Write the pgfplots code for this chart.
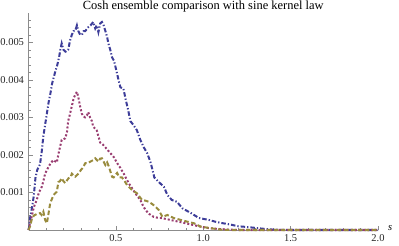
\documentclass[border=0pt]{standalone}
\usepackage{fontspec}
\setmainfont{Liberation Serif}
\usepackage{pgfplots}
\pgfplotsset{compat=1.18}
\definecolor{mmblue}{rgb}{0.24,0.24,0.6}
\definecolor{mmmag}{rgb}{0.6,0.24,0.4428}
\definecolor{mmolive}{rgb}{0.6,0.547,0.24}
\begin{document}
\begin{tikzpicture}
\path[use as bounding box] (-28.5bp,-16bp) rectangle (370.5bp,230bp);
\begin{axis}[
  at={(0,0)}, anchor=south west,
  scale only axis, width=349.5bp, height=217bp,
  xmin=0, xmax=2.0, ymin=0, ymax=0.00578,
  axis lines*=left,
  axis line style={color=black!45, line width=0.5bp},
  every tick/.style={color=black!45, line width=0.5bp},
  tick align=inside,
  major tick length=4bp, minor tick length=2.2bp,
  xtick={0.5,1,1.5,2}, xticklabels={0.5,1.0,1.5,2.0},
  minor xtick={0.1,0.2,0.3,0.4,0.6,0.7,0.8,0.9,1.1,1.2,1.3,1.4,1.6,1.7,1.8,1.9},
  ytick={0.001,0.002,0.003,0.004,0.005},
  yticklabels={0.001,0.002,0.003,0.004,0.005},
  minor ytick={0.0002,0.0004,0.0006,0.0008,0.0012,0.0014,0.0016,0.0018,0.0022,0.0024,0.0026,0.0028,0.0032,0.0034,0.0036,0.0038,0.0042,0.0044,0.0046,0.0048,0.0052,0.0054,0.0056},
  scaled y ticks=false,
  tick label style={font=\fontsize{10.5}{12}\selectfont, text=black!85},
  xticklabel style={yshift=-1bp},
  yticklabel style={xshift=-1bp},
  every axis title shift=0pt,
  title={Cosh ensemble comparison with sine kernel law},
  title style={font=\fontsize{12.5}{14}\selectfont, at={(0.5,1)}, anchor=base, yshift=3bp, inner sep=0pt},
  xlabel={\itshape s},
  xlabel style={font=\fontsize{10.5}{12}\selectfont, at={(axis description cs:1,0)}, anchor=base west, xshift=10bp, inner sep=0pt},
  clip=false,
]
\addplot[mmblue, line width=2bp, dash pattern=on 4.5bp off 2bp on 1.3bp off 2bp] coordinates {
(0,0) (0.005,0.0001) (0.01,0.00035) (0.02,0.0006) (0.03,0.0009) (0.04,0.0014) (0.05,0.0016)
(0.066,0.00175) (0.076,0.0021) (0.085,0.0025) (0.095,0.0028) (0.105,0.0031) (0.115,0.0034)
(0.124,0.0036) (0.135,0.0039) (0.152,0.0042) (0.165,0.0044) (0.175,0.0046) (0.182,0.0048)
(0.19,0.00497) (0.2,0.0048) (0.212,0.00475) (0.227,0.0048) (0.238,0.00505) (0.248,0.0052)
(0.258,0.0053) (0.267,0.0053) (0.277,0.00545) (0.285,0.0053) (0.296,0.0052) (0.306,0.0052)
(0.316,0.0053) (0.325,0.0053) (0.342,0.0054) (0.355,0.00545) (0.37,0.00554) (0.382,0.00537)
(0.39,0.00545) (0.40,0.00527) (0.41,0.0055) (0.42,0.00554) (0.43,0.00545) (0.44,0.0053)
(0.45,0.00514) (0.457,0.00497) (0.468,0.0048) (0.478,0.0046) (0.49,0.0045) (0.50,0.0043)
(0.515,0.0040) (0.526,0.0038) (0.543,0.00377) (0.555,0.0035) (0.57,0.0032) (0.583,0.0029)
(0.60,0.0028) (0.62,0.00266) (0.64,0.0024) (0.66,0.0022) (0.68,0.00204) (0.70,0.00178)
(0.72,0.0014) (0.745,0.00128) (0.775,0.00115) (0.795,0.00093) (0.82,0.0008) (0.85,0.00075)
(0.88,0.00058) (0.93,0.00045) (0.975,0.00032) (1.03,0.00027) (1.07,0.00022) (1.10,0.00019)
(1.15,0.00015) (1.2,0.0001) (1.25,0.00008) (1.31,0.00005) (1.35,0.00003) (1.4,0.00001)
(1.45,0.000005) (1.5,0) (2.0,0)
};
\addplot[mmmag, line width=2bp, dash pattern=on 2bp off 2bp] coordinates {
(0,0) (0.005,0.0001) (0.018,0.00035) (0.03,0.0006) (0.047,0.0008) (0.06,0.001) (0.076,0.00115)
(0.085,0.0013) (0.095,0.0015) (0.114,0.00168) (0.13,0.0018) (0.143,0.00186) (0.162,0.0018)
(0.175,0.0021) (0.19,0.0024) (0.21,0.00244) (0.22,0.0026) (0.227,0.0029) (0.238,0.0031)
(0.248,0.0033) (0.258,0.0035) (0.267,0.0036) (0.277,0.00368) (0.285,0.00354) (0.296,0.00328)
(0.305,0.0031) (0.313,0.00303) (0.324,0.0030) (0.334,0.00305) (0.342,0.00314) (0.352,0.0030)
(0.363,0.0029) (0.37,0.00275) (0.39,0.00266) (0.40,0.0025) (0.41,0.00233) (0.425,0.00228)
(0.44,0.0022) (0.468,0.00205) (0.487,0.00195) (0.505,0.0018) (0.526,0.00165) (0.545,0.0015)
(0.564,0.00133) (0.58,0.0012) (0.60,0.00106) (0.62,0.00092) (0.64,0.0008) (0.655,0.00065)
(0.67,0.00053) (0.69,0.00043) (0.716,0.00035) (0.735,0.00033) (0.756,0.00032) (0.78,0.0003)
(0.81,0.00027) (0.85,0.00023) (0.89,0.00019) (0.945,0.00013) (0.985,0.00009) (1.03,0.00005)
(1.08,0.00003) (1.15,0.00001) (1.2,0) (2.0,0)
};
\addplot[mmolive, line width=2bp, dash pattern=on 4.5bp off 2.5bp] coordinates {
(0,0) (0.009,0.0001) (0.018,0.00027) (0.03,0.00038) (0.037,0.0004) (0.05,0.00043) (0.066,0.00045)
(0.075,0.0004) (0.085,0.00049) (0.095,0.00027) (0.105,0.00018) (0.115,0.00045) (0.124,0.00071)
(0.143,0.00093) (0.162,0.00102) (0.171,0.00128) (0.18,0.0013) (0.19,0.00138) (0.2,0.0013)
(0.21,0.00125) (0.229,0.00138) (0.24,0.0014) (0.248,0.0015) (0.267,0.00142) (0.286,0.0015)
(0.3,0.0016) (0.31,0.00165) (0.325,0.00178) (0.34,0.00178) (0.353,0.00182) (0.37,0.00186)
(0.382,0.00191) (0.40,0.00182) (0.41,0.0019) (0.42,0.00191) (0.44,0.00173) (0.45,0.0018)
(0.459,0.0017) (0.478,0.00142) (0.487,0.0014) (0.507,0.00152) (0.52,0.0014) (0.535,0.0014)
(0.55,0.0013) (0.564,0.0012) (0.593,0.00106) (0.62,0.00098) (0.65,0.0008) (0.67,0.00078)
(0.69,0.00075) (0.717,0.00066) (0.746,0.00053) (0.766,0.00035) (0.795,0.0004) (0.83,0.00032)
(0.87,0.00027) (0.91,0.00022) (0.947,0.00018) (0.985,0.00009) (1.04,0.00005) (1.1,0.00001)
(1.15,0) (2.0,0)
};
\end{axis}
\end{tikzpicture}
\end{document}
